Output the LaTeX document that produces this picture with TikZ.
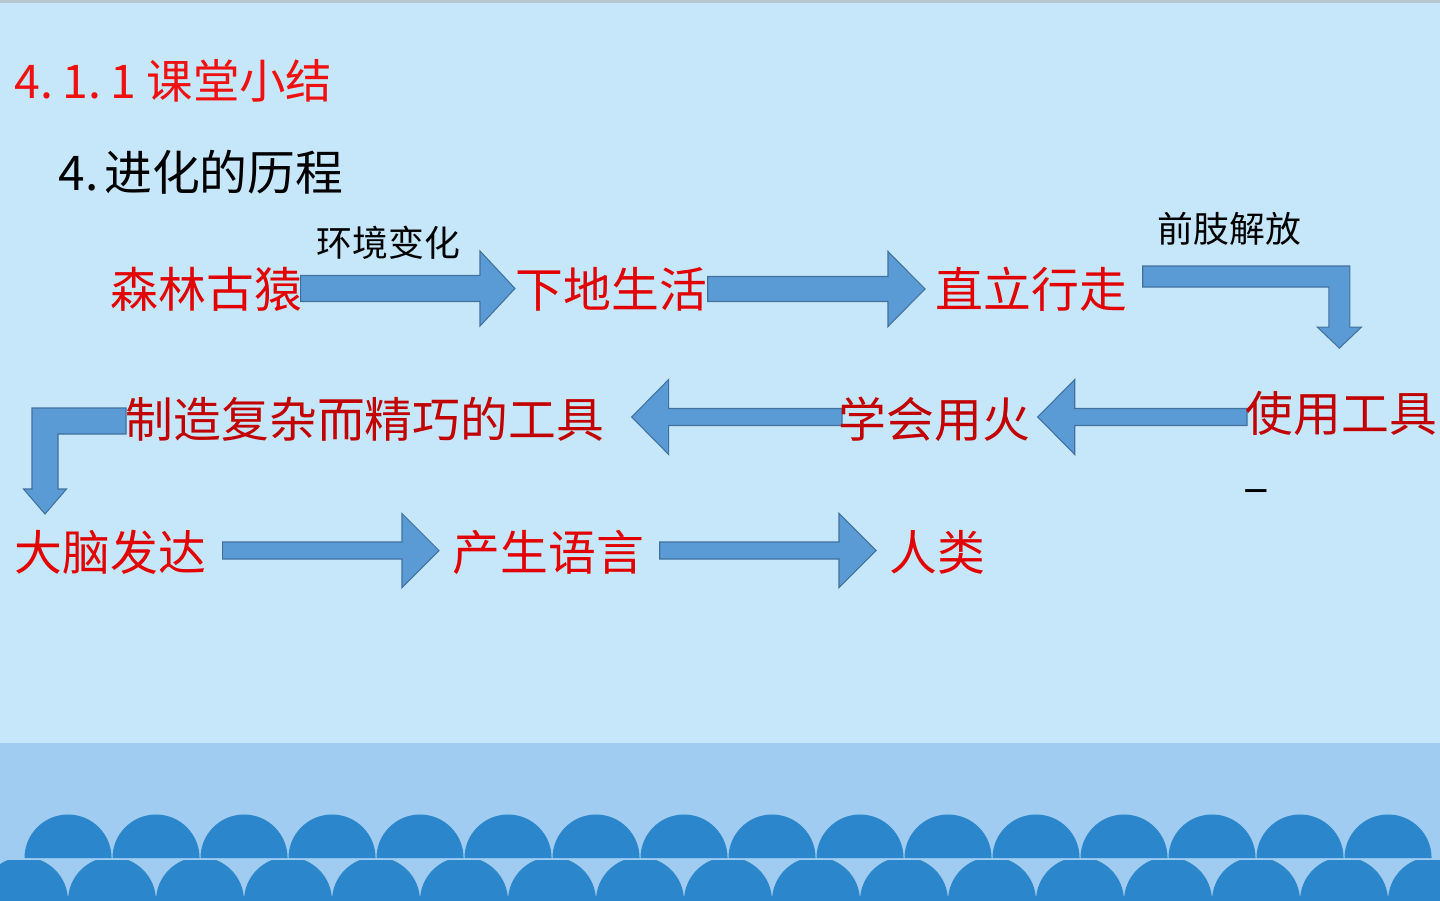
\documentclass[tikz,border=0pt]{standalone}
\usepackage{fontspec}
\setmainfont{Noto Sans CJK SC}
\usepackage{tikz}
\usetikzlibrary{calc}
\usetikzlibrary{backgrounds}

\definecolor{skyblue}{RGB}{198,231,249}
\definecolor{seablue}{RGB}{159,204,240}
\definecolor{wavblue}{RGB}{43,134,203}
\definecolor{edgegray}{RGB}{184,198,208}
\definecolor{arrfill}{RGB}{91,155,213}
\definecolor{arrline}{RGB}{65,113,156}
\definecolor{titlered}{RGB}{240,16,16}
\definecolor{stepred}{RGB}{226,0,0}
\definecolor{darkred}{RGB}{194,0,0}

% start, tip, half shaft, half head, head length
\newcommand{\blockarrow}[5]{%
\draw[barrow] ($(#1)+(0,#3)$) -- ($(#2|-#1)+({0-(#5)},#3)$) -- ($(#2|-#1)+({0-(#5)},#4)$) -- (#2|-#1)
 -- ($(#2|-#1)+({0-(#5)},{0-(#4)})$) -- ($(#2|-#1)+({0-(#5)},{0-(#3)})$) -- ($(#1)+(0,{0-(#3)})$) -- cycle;}

\begin{document}
\begin{tikzpicture}[x=0.01cm,y=-0.01cm,
  txt/.style={inner sep=0pt,anchor=west},
  bigred/.style={txt,text=stepred,font=\fontsize{13.6}{16}\selectfont},
  dkred/.style={txt,text=darkred,font=\fontsize{13.6}{16}\selectfont},
  small/.style={txt,text=black,font=\fontsize{10.2}{12}\selectfont},
  barrow/.style={fill=arrfill,draw=arrline,line width=0.3pt}]
\useasboundingbox (0,0) rectangle (1440,900);
%\draw[red] (0,0) rectangle (1440,900);
\begin{scope}[on background layer]
\fill[skyblue] (0,0) rectangle (1440,743);
\fill[edgegray] (0,0) rectangle (1440,2.5);
\fill[seablue] (0,743) rectangle (1440,900);
\foreach \i in {0,...,15}
  \fill[wavblue] (24.5+88*\i,858) arc (180:0:0.435cm) -- cycle;
\begin{scope}
\clip (0,860.5) rectangle (1440,900);
\foreach \i in {0,...,16}
  \fill[wavblue] (24+88*\i,901) circle (0.44cm);
\end{scope}
\end{scope}

\node[txt,text=titlered,font=\fontsize{13.2}{16}\selectfont] (title) at (14,81)
  {4.\hspace{0.2em}1.\hspace{0.2em}1\hspace{0.22em}课堂小结};
\node[txt,font=\fontsize{13.6}{16}\selectfont] (sub) at (58,172) {4.\hspace{0.12em}进化的历程};

\node[bigred] (sl) at (110,289) {森林古猿};
\node[bigred] (xd) at (515,289) {下地生活};
\node[bigred] (zl) at (935,289) {直立行走};
\node[small] (hj) at (316,243) {环境变化};
\node[small] (qz) at (1157,229) {前肢解放};

\node[dkred] (sy) at (1245,413) {使用工具};
\node[dkred] (xh) at (838,419) {学会用火};
\node[dkred] (zz) at (125,419) {制造复杂而精巧的工具};
\node[inner sep=0pt,font=\fontsize{13.6}{16}\selectfont] (dash) at (1256,497) {–};

\node[bigred] (dn) at (14,552) {大脑发达};
\node[bigred] (cs) at (452,552) {产生语言};
\node[bigred] (rl) at (889,552) {人类};

\begin{scope}[on background layer]
\coordinate (s1) at ($(sl.east)+(-2,-0.5)$);
\coordinate (t1) at ($(xd.west)+(0,0)$);
\blockarrow{s1}{t1}{13}{37.5}{35}
\coordinate (s2) at (xd.east);
\coordinate (t2) at ($(zl.west)+(-10,0)$);
\blockarrow{s2}{t2}{12.5}{37.5}{37}
% bent arrow down to the tools
\coordinate (b1s) at ($(zl.east)+(15,-12.5)$);
\coordinate (b1t) at ($(sy.north)+(-2,-42)$);
\draw[barrow] ($(b1s)+(0,-10.5)$) -- ($(b1t|-b1s)+(10.5,-10.5)$) -- ($(b1t)+(10.5,-21)$) -- ($(b1t)+(22,-21)$)
  -- (b1t) -- ($(b1t)+(-22,-21)$) -- ($(b1t)+(-10.5,-21)$) -- ($(b1t|-b1s)+(-10.5,10.5)$) -- ($(b1s)+(0,10.5)$) -- cycle;
\coordinate (s4) at ($(sy.west)+(2,4)$);
\coordinate (t4) at ($(xh.east)+(7,0)$);
\blockarrow{s4}{t4}{8.5}{37.5}{-37}
\coordinate (s5) at ($(xh.west)+(4,-2)$);
\coordinate (t5) at ($(zz.east)+(27,0)$);
\blockarrow{s5}{t5}{8.5}{37.5}{-37}
% bent arrow down to the brain
\coordinate (b2s) at ($(zz.west)+(1,2)$);
\coordinate (b2t) at (45,514);
\draw[barrow] ($(b2s)+(0,-13)$) -- ($(b2t|-b2s)+(-13,-13)$) -- ($(b2t)+(-13,-25)$) -- ($(b2t)+(-21.5,-25)$)
  -- (b2t) -- ($(b2t)+(21.5,-25)$) -- ($(b2t)+(13,-25)$) -- ($(b2t|-b2s)+(13,13)$) -- ($(b2s)+(0,13)$) -- cycle;
\coordinate (s7) at ($(dn.east)+(16,-1.5)$);
\coordinate (t7) at ($(cs.west)+(-13,0)$);
\blockarrow{s7}{t7}{8.5}{37}{37}
\coordinate (s8) at ($(cs.east)+(15,-1.5)$);
\coordinate (t8) at ($(rl.west)+(-13,0)$);
\blockarrow{s8}{t8}{8.5}{37}{37}
\end{scope}
\end{tikzpicture}
\end{document}
